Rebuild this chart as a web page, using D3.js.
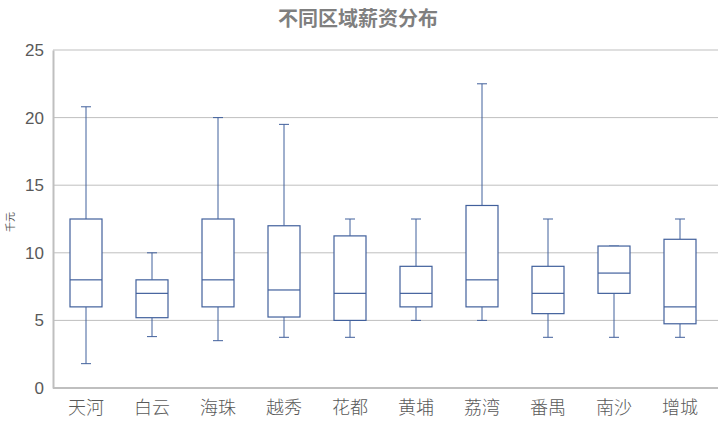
<!DOCTYPE html>
<html><head><meta charset="utf-8">
<script src="https://cdn.jsdelivr.net/npm/d3@7"></script>
<style>body{margin:0;background:#fff}svg{display:block}</style>
</head><body>
<script>
const categories = ["天河","白云","海珠","越秀","花都","黄埔","荔湾","番禺","南沙","增城"];
const minVals    = [1.8, 3.8, 3.5, 3.75, 3.75, 5, 5, 3.75, 3.75, 3.75];
const q1Vals     = [6, 5.2, 6, 5.25, 5, 6, 6, 5.5, 7, 4.75];
const medianVals = [8, 7, 8, 7.25, 7, 7, 8, 7, 8.5, 6];
const q3Vals     = [12.5, 8, 12.5, 12, 11.25, 9, 13.5, 9, 10.5, 11];
const maxVals    = [20.8, 10, 20, 19.5, 12.5, 12.5, 22.5, 12.5, 10.5, 12.5];
const yTicks     = [0, 5, 10, 15, 20, 25];
const title = "不同区域薪资分布";
const yTitle = "千元";

const W = 721, H = 429;
const m = {left: 53, right: 8, top: 50, bottom: 41};
const svg = d3.select("body").append("svg").attr("width", W).attr("height", H);
const font = "'Noto Sans CJK SC','Liberation Sans',sans-serif";

const x = d3.scaleBand().domain(categories).range([m.left, W - m.right]).paddingInner(0).paddingOuter(0);
const y = d3.scaleLinear().domain([0, 25]).range([H - m.bottom, m.top]);

// grid
svg.append("g").selectAll("line").data(yTicks.filter(d => d > 0)).join("line")
  .attr("x1", m.left).attr("x2", W - 3)
  .attr("y1", d => y(d)).attr("y2", d => y(d))
  .attr("stroke", "#bfbfbf").attr("stroke-width", 1);

// y axis
const yAxis = svg.append("g").attr("transform", `translate(${m.left},0)`)
  .call(d3.axisLeft(y).tickValues(yTicks).tickSize(0).tickPadding(9));
yAxis.select(".domain").attr("stroke", "#bfbfbf").attr("stroke-width", 2);
yAxis.selectAll("text").attr("font-family", "'Liberation Sans Narrow','Liberation Sans',sans-serif")
  .attr("font-size", 17).attr("fill", "#595959");

// x axis
const xAxis = svg.append("g").attr("transform", `translate(0,${y(0)})`)
  .call(d3.axisBottom(x).tickSize(0).tickPadding(13));
xAxis.select(".domain").attr("stroke", "#bfbfbf").attr("stroke-width", 2)
  .attr("d", `M${m.left},0H${W - 3}`);
xAxis.selectAll("text").attr("font-family", font).attr("font-size", 18).attr("font-weight", 300).attr("fill", "#595959");

// boxes
const data = categories.map((c, i) => ({c, min: minVals[i], q1: q1Vals[i], med: medianVals[i], q3: q3Vals[i], max: maxVals[i]}));
const boxW = 32, capW = 10, col = "#41609c";
const g = svg.append("g").selectAll("g").data(data).join("g")
  .attr("transform", d => `translate(${x(d.c) + x.bandwidth() / 2},0)`);
g.append("line").attr("x1", 0).attr("x2", 0).attr("y1", d => y(d.q3)).attr("y2", d => y(d.max)).attr("stroke", col);
g.append("line").attr("x1", 0).attr("x2", 0).attr("y1", d => y(d.q1)).attr("y2", d => y(d.min)).attr("stroke", col);
g.append("line").attr("x1", -capW/2).attr("x2", capW/2).attr("y1", d => y(d.max)).attr("y2", d => y(d.max)).attr("stroke", col);
g.append("line").attr("x1", -capW/2).attr("x2", capW/2).attr("y1", d => y(d.min)).attr("y2", d => y(d.min)).attr("stroke", col);
g.append("rect").attr("x", -boxW/2).attr("width", boxW)
  .attr("y", d => y(d.q3)).attr("height", d => y(d.q1) - y(d.q3))
  .attr("fill", "#fff").attr("stroke", col).attr("stroke-width", 1.2);
g.append("line").attr("x1", -boxW/2).attr("x2", boxW/2).attr("y1", d => y(d.med)).attr("y2", d => y(d.med)).attr("stroke", col).attr("stroke-width", 1.2);

// title
svg.append("text").attr("x", 358).attr("y", 26).attr("text-anchor", "middle")
  .attr("font-family", font).attr("font-weight", "bold").attr("font-size", 20).attr("fill", "#7f7f7f").text(title);

// y title
svg.append("text").attr("transform", "translate(14,222) rotate(-90)").attr("text-anchor", "middle")
  .attr("font-family", font).attr("font-size", 10).attr("fill", "#595959").text(yTitle);
</script>
</body></html>
